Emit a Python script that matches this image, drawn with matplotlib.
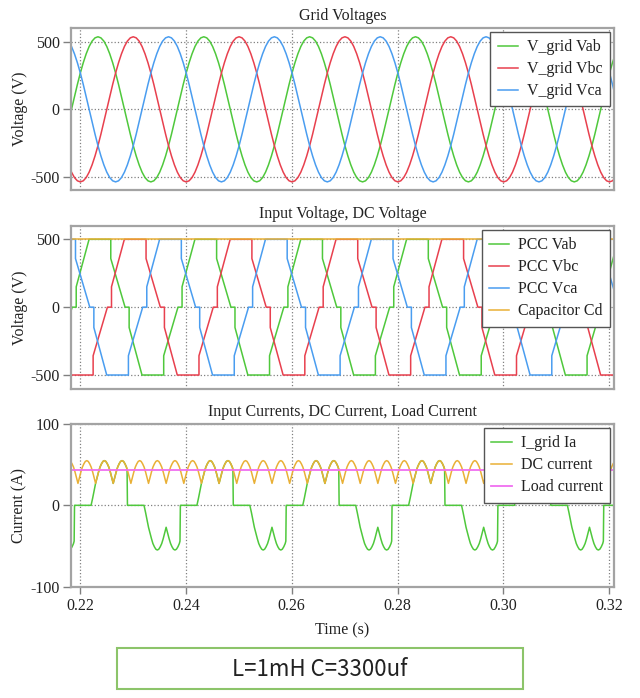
import numpy as np
import matplotlib.pyplot as plt
from matplotlib.patches import Rectangle

plt.rcParams['font.family'] = ['Liberation Serif', 'DejaVu Serif']
plt.rcParams['axes.unicode_minus'] = False

# ---- data ----
T = 0.02  # 50 Hz period (s)

# grid line voltage Vab, one cycle sampled every 10 deg, starting at rising zero
grid_vab_cycle = [0, 93, 184, 269, 345, 411, 465, 505, 529, 537, 529, 505,
                  465, 411, 345, 269, 184, 93, 0, -93, -184, -269, -345, -411,
                  -465, -505, -529, -537, -529, -505, -465, -411, -345, -269, -184, -93]
grid_zero_t = 0.2184          # rising zero crossing of Vab

# PCC line voltage Vab, one period of breakpoints (ms after the +150 V step)
pcc_t_ms = [0, 0, 2.43, 6.53, 6.53, 9.23, 10, 10, 12.43, 16.53, 16.53, 19.23]
pcc_vab = [0, 150, 500, 500, 358, 0, 0, -150, -500, -500, -358, 0]
pcc_step_t = 0.21929

cap_voltage = 500

# DC current: one 300 Hz ripple arch, starting at a trough
dc_arch = [27, 34, 41, 47, 51, 54, 55, 54, 51, 47, 41, 34]
dc_trough_t = 0.21962

# grid current Ia, positive lobe (ms relative to a DC-current trough)
ia_lobe_t_ms = [-0.85, -0.55, -0.25, 0, 0.28, 0.56, 0.83, 1.11, 1.39, 1.67, 1.94,
                2.22, 2.5, 2.78, 3.06, 3.33, 3.61, 3.89, 4.17, 4.44, 4.72, 5.0,
                5.28, 5.56, 5.83, 5.95, 6.02]
ia_lobe = [0, 9, 19, 27, 34, 41, 47, 51, 54, 55, 54, 51, 47, 41, 34, 27, 34, 41,
           47, 51, 54, 55, 54, 51, 47, 44, 0]
ia_ref_t = 0.22295

load_current = 43

xticks = [0.22, 0.24, 0.26, 0.28, 0.30, 0.32]
xlim = (0.2183, 0.3209)

GREEN = '#4fc83c'
RED = '#e8404e'
BLUE = '#4a9df0'
ORANGE = '#e9b036'
PINK = '#f06ef0'

# ---- build the periodic traces ----
n_per = 7
dt = T / len(grid_vab_cycle)
t_grid = grid_zero_t - T + dt * np.arange(n_per * len(grid_vab_cycle) + 1)
v_grid = np.append(np.tile(grid_vab_cycle, n_per), grid_vab_cycle[0])

t_pcc = np.concatenate([pcc_step_t - T + np.array(pcc_t_ms) / 1000 + k * T for k in range(n_per)])
v_pcc = np.tile(pcc_vab, n_per)

ripple = T / 6
n_arch = 34
t_dc = dc_trough_t - ripple + ripple / len(dc_arch) * np.arange(n_arch * len(dc_arch) + 1)
i_dc = np.append(np.tile(dc_arch, n_arch), dc_arch[0])

lobe_t = np.array(ia_lobe_t_ms) / 1000
lobe_v = np.array(ia_lobe)
t_ia, i_ia = [], []
for k in range(-1, 6):
    t_ia += [ia_ref_t + k * T + lobe_t, ia_ref_t + k * T + T / 2 + lobe_t]
    i_ia += [lobe_v, -lobe_v]
t_ia = np.concatenate(t_ia)
i_ia = np.concatenate(i_ia)


def style(ax, title, ylabel, yticks, ylim, show_x):
    ax.set_title(title, fontsize=11.5, pad=6, color='#222222')
    ax.set_ylabel(ylabel, fontsize=11.5, labelpad=2, color='#222222')
    ax.set_xlim(xlim)
    ax.set_ylim(ylim)
    ax.set_yticks(yticks)
    ax.set_xticks(xticks)
    ax.grid(True, linestyle=':', color='#808080', linewidth=0.9)
    for s in ax.spines.values():
        s.set_color('#a3a3a3')
        s.set_linewidth(1.6)
    ax.tick_params(axis='y', length=6, width=1, color='#808080', pad=2,
                   labelsize=11.5, labelcolor='#222222')
    if show_x:
        ax.set_xticklabels([f'{v:.2f}' for v in xticks])
        ax.tick_params(axis='x', length=5, width=1, color='#808080', pad=3,
                       labelsize=11.5, labelcolor='#222222')
    else:
        ax.tick_params(axis='x', length=0, labelbottom=False)


def legend(ax):
    leg = ax.legend(loc='upper right', fontsize=11.5, frameon=True, fancybox=False,
                    framealpha=1, edgecolor='#555555', borderaxespad=0.25,
                    handlelength=1.3, handletextpad=0.55, labelspacing=0.38,
                    borderpad=0.45)
    leg.get_frame().set_linewidth(1.0)
    for txt in leg.get_texts():
        txt.set_color('#222222')


fig = plt.figure(figsize=(6.4, 6.98), dpi=100)
ax1 = fig.add_axes([0.1109, 0.7278, 0.8484, 0.2321])
ax2 = fig.add_axes([0.1109, 0.4427, 0.8484, 0.2335])
ax3 = fig.add_axes([0.1109, 0.1590, 0.8484, 0.2335])

# Grid voltages
ax1.plot(t_grid, v_grid, color=GREEN, lw=1.1, label='V_grid Vab')
ax1.plot(t_grid + T / 3, v_grid, color=RED, lw=1.1, label='V_grid Vbc')
ax1.plot(t_grid + 2 * T / 3, v_grid, color=BLUE, lw=1.1, label='V_grid Vca')
style(ax1, 'Grid Voltages', 'Voltage (V)', [-500, 0, 500], (-597, 602), False)
legend(ax1)

# PCC voltages and DC voltage
ax2.plot(t_pcc, v_pcc, color=GREEN, lw=1.1, label='PCC Vab')
ax2.plot(t_pcc + T / 3, v_pcc, color=RED, lw=1.1, label='PCC Vbc')
ax2.plot(t_pcc + 2 * T / 3, v_pcc, color=BLUE, lw=1.1, label='PCC Vca')
ax2.plot(xlim, [cap_voltage, cap_voltage], color=ORANGE, lw=1.1, label='Capacitor Cd')
style(ax2, 'Input Voltage, DC Voltage', 'Voltage (V)', [-500, 0, 500], (-603, 598), False)
legend(ax2)

# Currents
ax3.plot(t_ia, i_ia, color=GREEN, lw=1.1, label='I_grid Ia')
ax3.plot(t_dc, i_dc, color=ORANGE, lw=1.1, label='DC current')
ax3.plot(xlim, [load_current, load_current], color=PINK, lw=1.3, label='Load current')
style(ax3, 'Input Currents, DC Current, Load Current', 'Current (A)', [-100, 0, 100],
      (-100.5, 100), True)
ax3.set_xlabel('Time (s)', fontsize=11.5, labelpad=6, color='#222222')
legend(ax3)

# parameter box
fig.patches.append(Rectangle((117 / 640, 1 - 689 / 698), 406 / 640, 41 / 698,
                             transform=fig.transFigure, fill=False,
                             edgecolor='#8cc46a', linewidth=1.5))
fig.text(320 / 640, 1 - 669 / 698, 'L=1mH C=3300uf', ha='center', va='center',
         fontsize=16, family=['Noto Sans CJK SC', 'DejaVu Sans'], color='#222222')

fig.savefig('out.png', dpi=100)
